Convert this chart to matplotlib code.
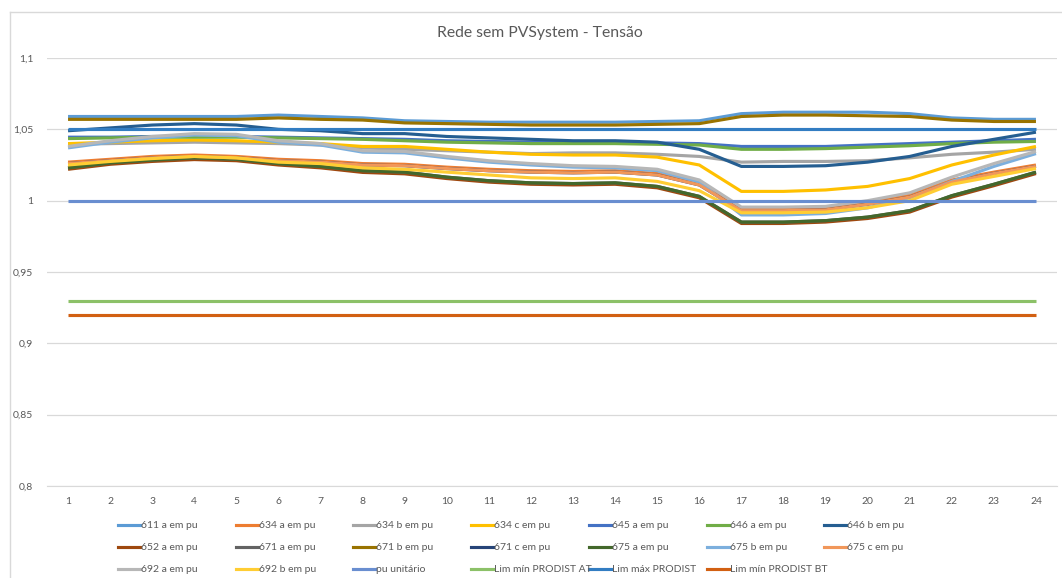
import matplotlib
matplotlib.use("Agg")
import matplotlib.pyplot as plt
from matplotlib.lines import Line2D
from matplotlib.ticker import FixedLocator, FuncFormatter

plt.rcParams['font.family'] = ['Lato', 'DejaVu Sans']

hours = list(range(1, 25))

s611a = [1.059, 1.059, 1.059, 1.059, 1.059, 1.060, 1.059, 1.058, 1.056, 1.0555, 1.055, 1.055,
         1.055, 1.055, 1.0555, 1.056, 1.061, 1.062, 1.062, 1.062, 1.061, 1.058, 1.057, 1.057]
s634a = [1.027, 1.029, 1.031, 1.032, 1.031, 1.029, 1.028, 1.026, 1.0255, 1.0235, 1.022, 1.021,
         1.0205, 1.021, 1.019, 1.012, 0.9945, 0.9945, 0.995, 0.999, 1.004, 1.0145, 1.020, 1.025]
s634b = [1.0395, 1.040, 1.0405, 1.041, 1.0405, 1.040, 1.039, 1.037, 1.036, 1.035, 1.034, 1.033,
         1.0335, 1.0335, 1.0325, 1.031, 1.027, 1.0275, 1.0275, 1.028, 1.030, 1.0325, 1.034, 1.036]
s634c = [1.040, 1.041, 1.042, 1.0425, 1.042, 1.041, 1.040, 1.038, 1.038, 1.036, 1.034, 1.0325,
         1.032, 1.032, 1.0305, 1.025, 1.0065, 1.0065, 1.0075, 1.010, 1.0155, 1.025, 1.032, 1.038]
s645a = [1.0445, 1.0445, 1.045, 1.045, 1.045, 1.0445, 1.044, 1.0435, 1.043, 1.042, 1.0415, 1.041,
         1.041, 1.041, 1.0405, 1.040, 1.038, 1.038, 1.038, 1.039, 1.040, 1.041, 1.042, 1.043]
s646a = [1.0435, 1.044, 1.0445, 1.0445, 1.0445, 1.044, 1.0435, 1.043, 1.042, 1.041, 1.0405, 1.040,
         1.040, 1.040, 1.0395, 1.039, 1.036, 1.036, 1.0365, 1.0375, 1.0385, 1.040, 1.041, 1.0415]
s646b = [1.049, 1.051, 1.053, 1.054, 1.053, 1.050, 1.049, 1.047, 1.047, 1.045, 1.044, 1.043,
         1.042, 1.042, 1.041, 1.036, 1.024, 1.024, 1.0245, 1.027, 1.031, 1.038, 1.043, 1.048]
s652a = [1.022, 1.0255, 1.0275, 1.0288, 1.028, 1.025, 1.023, 1.0198, 1.0188, 1.0155, 1.013, 1.0115,
         1.011, 1.0115, 1.009, 1.002, 0.984, 0.984, 0.985, 0.9875, 0.992, 1.0025, 1.0105, 1.019]
s671a = [1.023, 1.0265, 1.0285, 1.030, 1.029, 1.026, 1.024, 1.021, 1.020, 1.0165, 1.014, 1.0125,
         1.012, 1.0125, 1.010, 1.003, 0.985, 0.985, 0.986, 0.9885, 0.993, 1.0035, 1.0115, 1.020]
s671b = [1.057, 1.057, 1.057, 1.057, 1.057, 1.058, 1.057, 1.0565, 1.0545, 1.054, 1.0535, 1.053,
         1.053, 1.053, 1.0535, 1.054, 1.059, 1.060, 1.060, 1.0595, 1.059, 1.0565, 1.0555, 1.0555]
s671c = [1.026, 1.028, 1.030, 1.031, 1.030, 1.028, 1.027, 1.025, 1.0245, 1.0225, 1.021, 1.020,
         1.0195, 1.020, 1.018, 1.011, 0.993, 0.993, 0.9935, 0.9975, 1.0025, 1.013, 1.019, 1.024]
s675a = [1.023, 1.0265, 1.0285, 1.030, 1.029, 1.026, 1.024, 1.021, 1.020, 1.0165, 1.014, 1.0125,
         1.012, 1.0125, 1.010, 1.003, 0.985, 0.985, 0.986, 0.9885, 0.993, 1.0035, 1.0115, 1.020]
s675b = [1.037, 1.041, 1.044, 1.046, 1.0455, 1.041, 1.039, 1.034, 1.0335, 1.030, 1.027, 1.025,
         1.0235, 1.023, 1.021, 1.013, 0.990, 0.990, 0.991, 0.995, 1.002, 1.0135, 1.024, 1.033]
s675c = [1.026, 1.028, 1.030, 1.031, 1.030, 1.028, 1.027, 1.025, 1.0245, 1.0225, 1.021, 1.020,
         1.0195, 1.020, 1.018, 1.011, 0.993, 0.993, 0.9935, 0.9975, 1.0025, 1.013, 1.019, 1.024]
s692a = [1.038, 1.042, 1.045, 1.047, 1.0465, 1.042, 1.040, 1.035, 1.0345, 1.031, 1.028, 1.026,
         1.0245, 1.024, 1.022, 1.0145, 0.9955, 0.9955, 0.996, 1.000, 1.0055, 1.0165, 1.026, 1.0345]
s692b = [1.025, 1.0275, 1.0295, 1.031, 1.030, 1.027, 1.026, 1.023, 1.022, 1.020, 1.018, 1.016,
         1.0155, 1.016, 1.0135, 1.007, 0.9915, 0.9915, 0.992, 0.995, 1.000, 1.0115, 1.017, 1.0225]
pu_unitario = [1.0] * 24
lim_min_at = [0.93] * 24
lim_max = [1.05] * 24
lim_min_bt = [0.92] * 24

labels = ["611 a em pu", "634 a em pu", "634 b em pu", "634 c em pu", "645 a em pu",
          "646 a em pu", "646 b em pu", "652 a em pu", "671 a em pu", "671 b em pu",
          "671 c em pu", "675 a em pu", "675 b em pu", "675 c em pu", "692 a em pu",
          "692 b em pu", "pu unitário", "Lim mín PRODIST AT", "Lim máx PRODIST",
          "Lim mín PRODIST BT"]
series = [s611a, s634a, s634b, s634c, s645a, s646a, s646b, s652a, s671a, s671b,
          s671c, s675a, s675b, s675c, s692a, s692b, pu_unitario, lim_min_at, lim_max,
          lim_min_bt]
colors = ["#5B9BD5", "#ED7D31", "#A5A5A5", "#FFC000", "#4472C4", "#70AD47", "#255E91",
          "#9E480E", "#636363", "#997300", "#264478", "#43682B", "#7CAFDD", "#F1975A",
          "#B7B7B7", "#FFCD33", "#698ED0", "#8CC168", "#327DC2", "#D26012"]

y_ticks = [0.8, 0.85, 0.9, 0.95, 1.0, 1.05, 1.1]

W, H = 1062, 578
fig = plt.figure(figsize=(W / 100, H / 100), dpi=100)
ax = fig.add_axes([47 / W, 1 - 486 / H, (1057 - 47) / W, (486 - 58) / H])

for ys, c in zip(series, colors):
    ax.plot(hours, ys, color=c, lw=2.25, solid_joinstyle='round', solid_capstyle='butt')

ax.set_xlim(0.5, 24.5)
ax.set_ylim(0.8, 1.1)
ax.yaxis.set_major_locator(FixedLocator(y_ticks))
ax.yaxis.set_major_formatter(FuncFormatter(lambda v, p: ('%g' % round(v, 2)).replace('.', ',')))
ax.set_xticks(hours)
ax.grid(axis='y', color='#D9D9D9', lw=0.9)
ax.set_axisbelow(True)
for s in ['top', 'right', 'left']:
    ax.spines[s].set_visible(False)
ax.spines['bottom'].set_color('#D9D9D9')
ax.tick_params(axis='both', length=0, labelsize=7.5, labelcolor='#595959')
ax.tick_params(axis='y', pad=10)
ax.tick_params(axis='x', pad=8)

fig.text(540 / W, 1 - 33 / H, "Rede sem PVSystem - Tensão", ha='center', va='center',
         fontsize=11.3, color='#595959')

# chart border
fig.add_artist(Line2D([10 / W, 10 / W], [0, 1 - 12 / H], color='#D9D9D9', lw=1))
fig.add_artist(Line2D([10 / W, 1], [1 - 12 / H, 1 - 12 / H], color='#D9D9D9', lw=1))

# legend (Excel-like fixed grid, row-major)
for i, (lab, c) in enumerate(zip(labels, colors)):
    r, col = divmod(i, 7)
    x0 = 118 + col * 117.7
    y0 = 525 + r * 22
    fig.add_artist(Line2D([x0 / W, (x0 + 22) / W], [1 - y0 / H] * 2, color=c, lw=2.25))
    fig.text((x0 + 23) / W, 1 - y0 / H, lab, ha='left', va='center', fontsize=7.5,
             color='#595959')

fig.savefig("out.png", dpi=100)
